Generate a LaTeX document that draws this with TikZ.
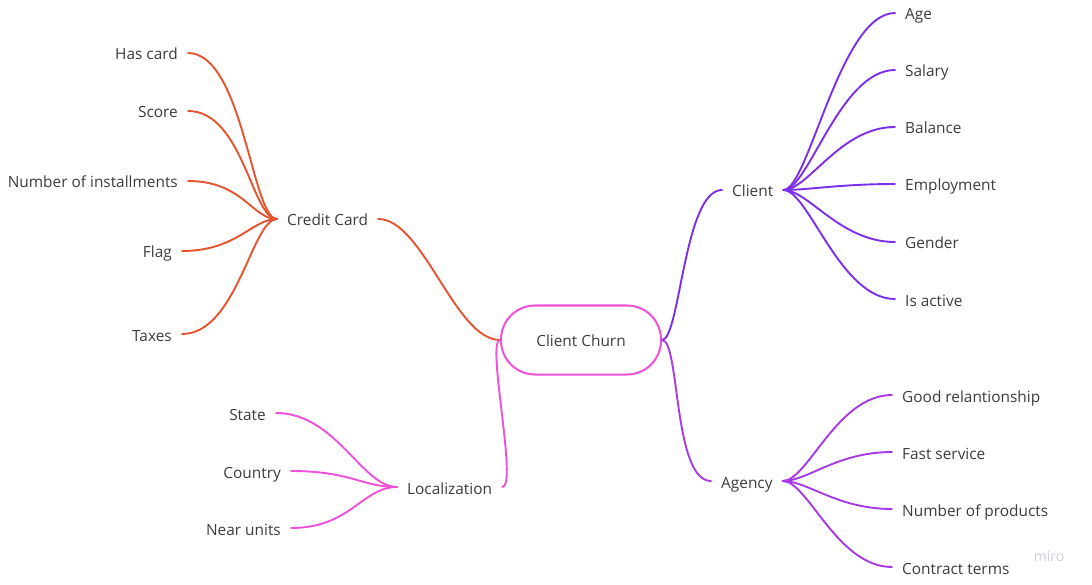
\documentclass[tikz,border=0pt]{standalone}
\usepackage{fontspec}
\setmainfont{Open Sans}
\definecolor{ccol}{HTML}{E5532F}
\definecolor{clcol}{HTML}{7B2FEC}
\definecolor{agcol}{HTML}{A63BE6}
\definecolor{locol}{HTML}{EE50D8}
\definecolor{txt}{HTML}{3C3C3C}
\definecolor{wm}{HTML}{CDCDD6}
\begin{document}
\begin{tikzpicture}[x=1pt,y=-1pt,
  lbl/.style={font=\fontsize{15.4}{18}\selectfont, text=txt, inner xsep=10pt, inner ysep=0pt, text height=16pt, text depth=2pt},
  rlbl/.style={lbl, anchor=west},
  llbl/.style={lbl, anchor=east},
  link/.style={line width=1.9pt, line cap=round}
]
\useasboundingbox (0,0) rectangle (1092,585);

% root
\node[draw=locol, line width=2pt, rounded corners=34pt, minimum width=160pt, minimum height=69pt,
      font=\fontsize{15.4}{18}\selectfont, text=txt, inner sep=0pt, text height=15pt, text depth=2pt] (root) at (581,340) {Client Churn};

% main branches
\node[rlbl] (cc) at (277,219) {Credit Card};
\node[rlbl] (cl) at (722,190) {Client};
\node[rlbl] (ag) at (711,481) {Agency};
\node[rlbl] (lo) at (397,487) {Localization};

% credit card children
\node[llbl] (hc) at (188,53) {Has card};
\node[llbl] (sc) at (188,111) {Score};
\node[llbl] (ni) at (188,181) {Number of installments};
\node[llbl] (fl) at (182,251) {Flag};
\node[llbl] (tx) at (182,334) {Taxes};

% client children
\node[rlbl] (age) at (895,13) {Age};
\node[rlbl] (sal) at (895,70) {Salary};
\node[rlbl] (bal) at (895,127) {Balance};
\node[rlbl] (emp) at (895,184) {Employment};
\node[rlbl] (gen) at (895,242) {Gender};
\node[rlbl] (act) at (895,299) {Is active};

% agency children
\node[rlbl] (gr) at (892,395) {Good relantionship};
\node[rlbl] (fs) at (892,452) {Fast service};
\node[rlbl] (np) at (892,509) {Number of products};
\node[rlbl] (ct) at (892,567) {Contract terms};

% localization children
\node[llbl] (st) at (276,413) {State};
\node[llbl] (co) at (291,471) {Country};
\node[llbl] (nu) at (291,528) {Near units};

% watermark
\node[font=\fontsize{14}{16}\selectfont, text=wm] (miro) at (1049,556) {miro};

% root links
\draw[link, ccol] (root.west) .. controls +(-45,0) and +(45,0) .. (cc.east);
\draw[link, locol] (root.west) .. controls +(-14,0) and +(16,0) .. (lo.east);
\draw[link, clcol] (root.east) .. controls +(18,0) and +(-38,0) .. (cl.west);
\draw[link, agcol] (root.east) .. controls +(18,0) and +(-38,0) .. (ag.west);

% credit card links
\foreach \c in {hc,sc,ni,fl,tx}
  \draw[link, ccol] (cc.west) .. controls +(-25,0) and +(55,0) .. (\c.east);
% client links
\foreach \c in {age,sal,bal,emp,gen,act}
  \draw[link, clcol] (cl.east) .. controls +(25,0) and +(-55,0) .. (\c.west);
% agency links
\foreach \c in {gr,fs,np,ct}
  \draw[link, agcol] (ag.east) .. controls +(25,0) and +(-55,0) .. (\c.west);
% localization links
\foreach \c in {st,co,nu}
  \draw[link, locol] (lo.west) .. controls +(-35,0) and +(60,0) .. (\c.east);
\end{tikzpicture}
\end{document}
